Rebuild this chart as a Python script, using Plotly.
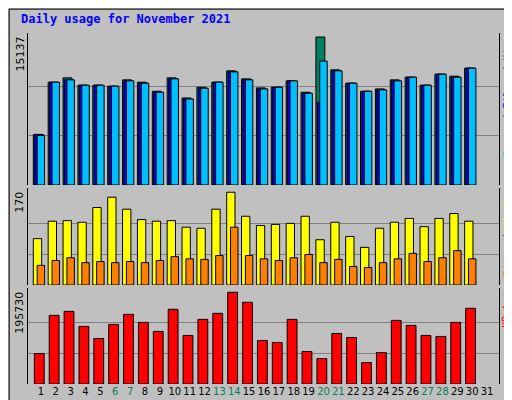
import plotly.graph_objects as go

days = list(range(1, 31))
H1, M1 = 442, 15137
hits_px = [379,223,210,232,232,235,216,223,250,210,270,238,223,189,213,240,238,219,253,88,186,226,250,243,216,208,232,199,205,181]
files_px = [379,223,216,232,232,235,219,226,253,213,273,241,223,192,216,243,238,219,256,283,189,226,250,246,219,208,232,199,208,181]
pages_px = [382,223,216,232,232,235,219,226,253,213,273,241,223,192,216,243,238,219,256,160,189,226,250,246,219,208,232,199,208,181]
hits = [round((530 - p) / H1 * M1) for p in hits_px]
files = [round((530 - p) / H1 * M1) for p in files_px]
pages = [round((530 - p) / H1 * M1) for p in pages_px]
visits_px = [166,115,112,118,73,43,79,109,115,112,133,136,79,28,100,127,124,121,100,169,118,160,193,136,118,106,130,106,91,115]
sites_px = [247,232,223,238,235,238,235,238,232,220,226,229,217,133,217,226,232,223,214,238,229,250,253,238,226,211,235,223,202,226]
visits = [round((305 - p) / 277 * 170) for p in visits_px]
sites = [round((305 - p) / 277 * 170) for p in sites_px]
kb_px = [511,397,385,430,466,424,394,418,445,379,457,409,391,328,358,472,478,409,505,526,451,463,538,508,412,427,457,460,418,376]
kbytes = [round((602 - p) / 274 * 195730) for p in kb_px]
weekend = {6, 7, 13, 14, 20, 21, 27, 28}
tick_days = list(range(1, 32))

MAXH, MAXV, MAXK = 15137, 170, 195730
line = dict(color="black", width=1)
fig = go.Figure()
def bar(x, y, color, off, w, ax):
    fig.add_trace(go.Bar(x=x, y=y, marker=dict(color=color, line=line), offset=off, width=w,
                         xaxis="x", yaxis=ax, showlegend=False, hoverinfo="skip"))
bar(days, hits, "#00805F", -0.51, 0.6, "y")
bar(days, files, "#0000FF", -0.42, 0.6, "y")
bar(days, pages, "#00BFFF", -0.25, 0.5, "y")
bar(days, visits, "#FFFF00", -0.51, 0.56, "y2")
bar(days, sites, "#FF8000", -0.25, 0.5, "y2")
bar(days, kbytes, "#FF0000", -0.44, 0.66, "y3")

def yax(dom, mx, top):
    return dict(domain=dom, range=[0, top], tickvals=[mx / 3, 2 * mx / 3], showticklabels=False,
                showgrid=True, gridcolor="#808080", gridwidth=1, zeroline=False,
                showline=True, linecolor="black", mirror=True, ticks="")
ticktext = [f'<span style="color:#00805F">{d}</span>' if d in weekend else str(d) for d in tick_days]
fig.update_layout(
    width=512, height=400, margin=dict(l=20, r=21, t=25, b=24),
    paper_bgcolor="#C0C0C0", plot_bgcolor="#C0C0C0", barmode="overlay",
    font=dict(family="DejaVu Sans", size=11, color="black"),
    xaxis=dict(range=[0.133, 31.8], tickvals=tick_days, ticktext=ticktext, ticks="",
               tickangle=0, showgrid=False, zeroline=False, anchor="y3",
               tickfont=dict(size=10, family="DejaVu Sans")),
    yaxis=yax([0.567, 1], MAXH, MAXH * 151.5 / 147.5),
    yaxis2=yax([0.282, 0.558], MAXV, MAXV * 96.4 / 92.3),
    yaxis3=yax([0, 0.274], MAXK, MAXK * 95.7 / 91.3),
)
fig.add_annotation(text="<b>Daily usage for November 2021</b>", xref="paper", yref="paper",
                   x=-0.02, y=1.0, yshift=14, xanchor="left", yanchor="middle", showarrow=False,
                   font=dict(color="#0000FF", size=12, family="DejaVu Sans Mono"))
for txt, y in ((str(MAXH), 1.0), (str(MAXV), 0.558), (str(MAXK), 0.274)):
    fig.add_annotation(text=txt, xref="paper", yref="paper", x=0, xshift=-8, y=y, yshift=-2,
                       textangle=-90, xanchor="center", yanchor="top", showarrow=False,
                       font=dict(size=11))
rlabels = [
    ('<span style="color:#00BFFF">Pages</span> / <span style="color:#0000FF">Files</span> / <span style="color:#00805F">Hits</span>', 1.0),
    ('<span style="color:#FF8000">Sites</span> / <span style="color:#FFFF00">Visits</span>', 0.558),
    ('<span style="color:#FF0000">KBytes</span>', 0.274),
]
for txt, y in rlabels:
    fig.add_annotation(text=txt, xref="paper", yref="paper", x=1, xshift=8, y=y, yshift=-2,
                       textangle=-90, xanchor="center", yanchor="top", showarrow=False,
                       font=dict(size=10, color="#404040", family="DejaVu Sans Mono"))
fig.add_shape(type="rect", xref="paper", yref="paper", x0=-0.04, x1=1.044, y0=-0.065, y1=1.068,
              line=dict(color="black", width=1), fillcolor="rgba(0,0,0,0)", layer="below")
fig.write_html("out.html")
